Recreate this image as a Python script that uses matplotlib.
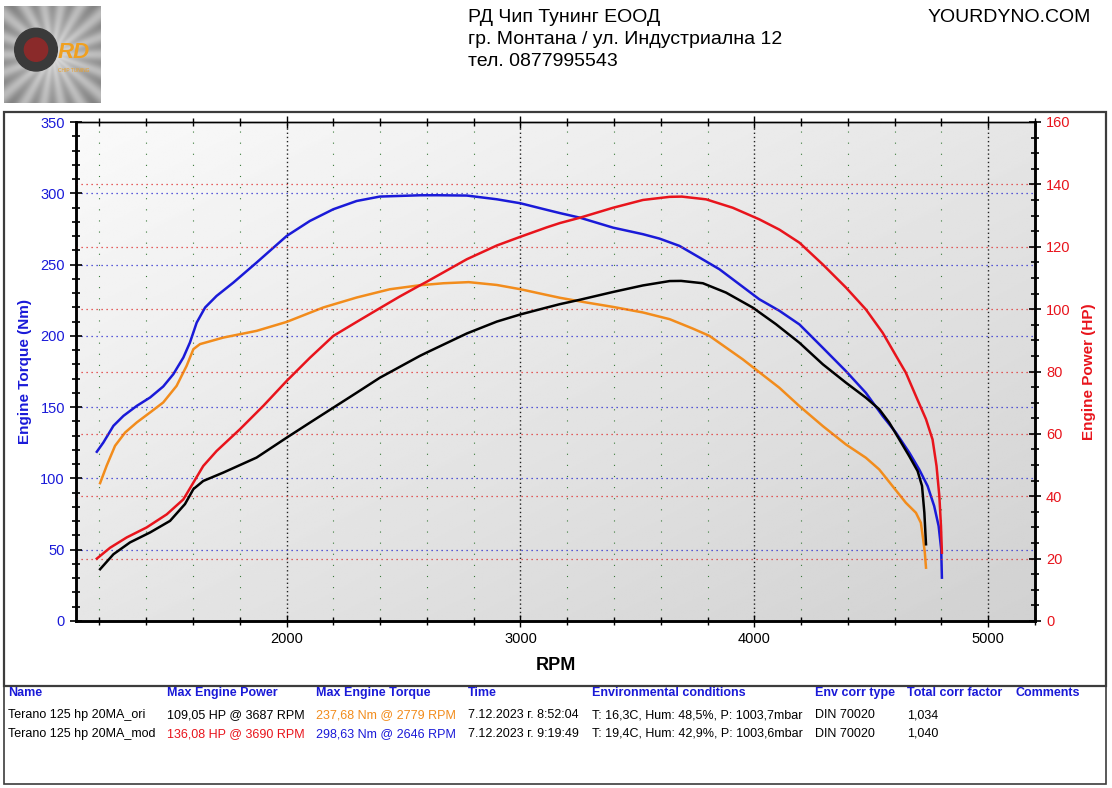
import matplotlib
matplotlib.use("Agg")
import matplotlib.pyplot as plt
import numpy as np
from matplotlib.patches import Rectangle
from matplotlib import font_manager

# --- data read from the dyno sheet ---
# mod run, torque (Nm)
rpm_tq_mod = [1189, 1217, 1260, 1303, 1360, 1417, 1473, 1516, 1559, 1587, 1616, 1652, 1701, 1773, 1872,
              2001, 2100, 2200, 2300, 2399, 2570, 2646, 2771, 2899, 3000, 3112, 3169, 3254, 3396, 3524,
              3595, 3680, 3766, 3851, 3936, 4021, 4107, 4193, 4293, 4392, 4477, 4549, 4606, 4663, 4705,
              4741, 4769, 4788, 4799, 4802]
tq_mod = [118.7, 125.2, 136.9, 143.9, 150.9, 156.8, 164.5, 173.1, 184.8, 195.3, 209.3, 219.9, 228.0, 237.4, 251.4,
          270.1, 280.6, 288.8, 294.6, 297.7, 298.6, 298.63, 298.4, 295.8, 293.0, 288.4, 286.1, 282.9, 275.9, 271.3,
          268.2, 263.1, 254.9, 246.7, 236.2, 225.7, 217.6, 208.0, 191.6, 175.2, 160.0, 143.7, 132.0, 118.0, 106.3,
          94.6, 80.6, 66.6, 50.2, 30.4]
# ori run, torque (Nm)
rpm_tq_ori = [1203, 1231, 1267, 1310, 1360, 1417, 1473, 1530, 1573, 1602, 1630, 1730, 1872, 2001, 2157,
              2300, 2442, 2570, 2671, 2779, 2899, 3000, 3112, 3169, 3282, 3396, 3524, 3638, 3737, 3808,
              3879, 3950, 4107, 4193, 4293, 4392, 4477, 4534, 4591, 4648, 4691, 4712, 4722, 4729, 4734]
tq_ori = [96.7, 108.9, 122.9, 132.2, 139.3, 146.3, 153.3, 164.9, 179.0, 190.7, 194.2, 198.8, 203.5, 209.8, 219.9,
          226.9, 232.7, 235.5, 236.9, 237.68, 235.7, 232.7, 228.7, 226.7, 223.4, 220.3, 216.4, 211.7, 205.1, 200.0,
          191.8, 183.6, 163.6, 150.7, 136.7, 123.8, 114.5, 106.3, 94.6, 82.9, 75.9, 68.9, 57.2, 47.9, 37.4]
# mod run, power (HP)
rpm_hp_mod = [1189, 1246, 1317, 1402, 1488, 1559, 1602, 1644, 1701, 1801, 1901, 2001, 2100, 2200, 2300,
              2399, 2483, 2570, 2600, 2771, 2899, 3000, 3112, 3169, 3254, 3396, 3524, 3638, 3690, 3794,
              3908, 4021, 4107, 4193, 4293, 4392, 4477, 4549, 4606, 4648, 4691, 4734, 4762, 4779, 4791,
              4798, 4802]
hp_mod = [20.0, 23.5, 26.8, 30.0, 34.2, 39.0, 44.4, 49.7, 54.5, 61.5, 69.0, 77.0, 84.4, 91.4, 95.9,
          100.3, 104.0, 107.6, 108.8, 116.0, 120.4, 123.2, 126.2, 127.6, 129.3, 132.5, 135.0, 136.0, 136.08, 135.2,
          132.5, 128.8, 125.5, 121.3, 114.3, 106.9, 99.9, 92.4, 85.0, 79.6, 72.1, 64.7, 58.2, 49.7, 40.1,
          30.5, 21.9]
# ori run, power (HP)
rpm_hp_ori = [1203, 1260, 1331, 1417, 1502, 1566, 1602, 1644, 1730, 1872, 2001, 2100, 2200, 2300, 2399,
              2570, 2600, 2771, 2899, 3000, 3112, 3169, 3254, 3396, 3524, 3638, 3687, 3780, 3879, 3993,
              4092, 4193, 4293, 4392, 4477, 4534, 4577, 4620, 4662, 4698, 4717, 4727, 4734]
hp_ori = [16.6, 21.4, 25.2, 28.4, 32.1, 37.5, 42.3, 44.9, 47.6, 52.4, 58.8, 63.6, 68.4, 73.2, 78.0,
          85.0, 86.1, 92.2, 96.0, 98.3, 100.5, 101.6, 103.0, 105.5, 107.6, 109.0, 109.05, 108.3, 105.3, 100.5,
          95.2, 89.2, 82.3, 76.4, 71.6, 67.9, 63.6, 58.2, 52.9, 48.1, 43.3, 34.7, 24.6]

tq_ticks = [0, 50, 100, 150, 200, 250, 300, 350]
hp_ticks = [0, 20, 40, 60, 80, 100, 120, 140, 160]
rpm_ticks = [2000, 3000, 4000, 5000]

header_lines = ["РД Чип Тунинг ЕООД", "гр. Монтана / ул. Индустриална 12", "тел. 0877995543"]
table_cols = ["Name", "Max Engine Power", "Max Engine Torque", "Time", "Environmental conditions",
              "Env corr type", "Total corr factor", "Comments"]
row_ori = ["Terano 125 hp 20MA_ori", "109,05 HP @ 3687 RPM", "237,68 Nm @ 2779 RPM", "7.12.2023 г. 8:52:04",
           "T: 16,3C, Hum: 48,5%, P: 1003,7mbar", "DIN 70020", "1,034", ""]
row_mod = ["Terano 125 hp 20MA_mod", "136,08 HP @ 3690 RPM", "298,63 Nm @ 2646 RPM", "7.12.2023 г. 9:19:49",
           "T: 19,4C, Hum: 42,9%, P: 1003,6mbar", "DIN 70020", "1,040", ""]

BLUE = "#1a1ad8"
RED = "#e8141c"
ORANGE = "#f28c1c"
BLACK = "#000000"

names = {f.name for f in font_manager.fontManager.ttflist}
NARROW = "Liberation Sans Narrow" if "Liberation Sans Narrow" in names else "Liberation Sans"
plt.rcParams["font.family"] = ["Liberation Sans", "DejaVu Sans"]

W, H = 1112, 788
fig = plt.figure(figsize=(W / 100, H / 100), dpi=100)


def fx(px):
    return px / W


def fy(py):
    return 1 - py / H


# header
for i, s in enumerate(header_lines):
    fig.text(fx(468), fy(18 + i * 22), s, fontsize=14, family=NARROW, va="center", ha="left")
fig.text(fx(1091), fy(18), "YOURDYNO.COM", fontsize=14, family=NARROW, va="center", ha="right")

# logo
lax = fig.add_axes([fx(4), fy(103), fx(97), 97 / H])
yy, xx = np.mgrid[-1:1:200j, -1:1:200j]
rr = np.sqrt(xx ** 2 + yy ** 2)
ang = np.arctan2(yy, xx)
img = 0.55 + 0.35 * np.exp(-rr * 1.2) + 0.08 * np.cos(ang * 18) * rr
lax.imshow(img, cmap="gray", vmin=0, vmax=1, extent=[0, 1, 0, 1], aspect="auto")
lax.add_patch(plt.Circle((0.33, 0.55), 0.22, color="#3a3a3a"))
lax.add_patch(plt.Circle((0.33, 0.55), 0.12, color="#8a2a2a"))
lax.text(0.72, 0.52, "RD", fontsize=16, weight="bold", color="#f0a020", ha="center", va="center", style="italic")
lax.text(0.72, 0.34, "CHIP TUNING", fontsize=3.5, color="#f0a020", ha="center", va="center")
lax.set_xlim(0, 1)
lax.set_ylim(0, 1)
lax.axis("off")

# frames
fig.add_artist(Rectangle((fx(4), fy(686)), fx(1102), 574 / H, transform=fig.transFigure,
                         fill=False, ec="#3c3c3c", lw=1.6))
fig.add_artist(Rectangle((fx(4), fy(784)), fx(1102), 98 / H, transform=fig.transFigure,
                         fill=False, ec="#3c3c3c", lw=1.2))

# main axes
ax = fig.add_axes([fx(76), fy(621), fx(1035 - 76), (621 - 122) / H])
g = np.linspace(0, 1, 256)
# light top-left, darker bottom-right (row 0 = top)
grad = 0.98 - 0.16 * (0.5 * g[None, :] + 0.5 * g[:, None])
ax.imshow(grad, cmap="gray", vmin=0, vmax=1, extent=[0, 1, 0, 1], transform=ax.transAxes,
          aspect="auto", zorder=-10)
ax.set_xlim(1100, 5200)
ax.set_ylim(0, 350)

# vertical grid
for r in np.arange(1200, 5201, 200):
    if r % 1000:
        ax.axvline(r, color="#3a7a3a", lw=0.8, ls=(0, (1, 9)), zorder=0)
for r in rpm_ticks:
    ax.axvline(r, color="#222222", lw=1.0, ls=(0, (1, 2)), zorder=0)
# torque grid
for t in tq_ticks[1:-1]:
    ax.axhline(t, color="#2a2ad0", lw=0.9, ls=(0, (1, 3)), zorder=0)

ax2 = ax.twinx()
ax2.set_ylim(0, 160)
for p in hp_ticks[1:-1]:
    ax2.axhline(p, color="#e03030", lw=0.9, ls=(0, (1, 3)), zorder=0)

ax.plot(rpm_tq_ori, tq_ori, color=ORANGE, lw=1.8, zorder=3, solid_joinstyle="round")
ax.plot(rpm_tq_mod, tq_mod, color=BLUE, lw=1.8, zorder=3, solid_joinstyle="round")
ax2.plot(rpm_hp_ori, hp_ori, color=BLACK, lw=1.8, zorder=3, solid_joinstyle="round")
ax2.plot(rpm_hp_mod, hp_mod, color=RED, lw=1.8, zorder=3, solid_joinstyle="round")

ax.set_yticks(tq_ticks)
ax.set_yticks(np.arange(0, 351, 10), minor=True)
ax.set_xticks(rpm_ticks)
ax.set_xticks(np.arange(1200, 5201, 200), minor=True)
ax2.set_yticks(hp_ticks)
ax2.set_yticks(np.arange(0, 161, 5), minor=True)

ax.tick_params(axis="y", which="both", colors="black", labelcolor=BLUE, labelsize=10.5,
               direction="inout", width=1.2)
ax.tick_params(axis="y", which="major", length=9)
ax.tick_params(axis="y", which="minor", length=6)
ax.tick_params(axis="x", which="both", labelsize=10.5, direction="inout", width=1.0, top=True)
ax.tick_params(axis="x", which="major", length=9)
ax.tick_params(axis="x", which="minor", length=6)
ax2.tick_params(axis="y", which="both", colors="black", labelcolor=RED, labelsize=10.5,
                direction="inout", width=1.2)
ax2.tick_params(axis="y", which="major", length=9)
ax2.tick_params(axis="y", which="minor", length=6)

for a in (ax, ax2):
    for s in a.spines.values():
        s.set_linewidth(1.8)
        s.set_color("black")
    a.spines["top"].set_linewidth(1.0)

ax.set_xlabel("RPM", fontsize=13, weight="bold", labelpad=8)
ax.set_ylabel("Engine Torque (Nm)", fontsize=11, weight="bold", color=BLUE, labelpad=6)
ax2.set_ylabel("Engine Power (HP)", fontsize=11, weight="bold", color=RED, labelpad=8)

# results table
col_x = [8, 167, 316, 468, 592, 815, 907, 1015]
for x, s in zip(col_x, table_cols):
    fig.text(fx(x), fy(693), s, fontsize=9, weight="bold", color=BLUE, family=NARROW, va="center")
row_colors_ori = ["black", "black", ORANGE, "black", "black", "black", "black", "black"]
row_colors_mod = ["black", RED, BLUE, "black", "black", "black", "black", "black"]
for row, cols, yv in ((row_ori, row_colors_ori, 715), (row_mod, row_colors_mod, 734)):
    for x, s, c in zip(col_x, row, cols):
        fig.text(fx(x), fy(yv), s, fontsize=9, color=c, family=NARROW, va="center")

fig.savefig("out.png", dpi=100)
